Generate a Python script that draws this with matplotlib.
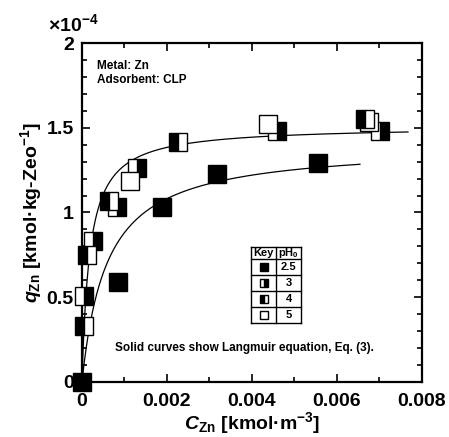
import numpy as np
import matplotlib
matplotlib.use("Agg")
import matplotlib.pyplot as plt

plt.rcParams['font.family'] = 'Liberation Sans'
plt.rcParams['font.weight'] = 'bold'
plt.rcParams['axes.labelweight'] = 'bold'
plt.rcParams['mathtext.fontset'] = 'custom'
plt.rcParams['mathtext.rm'] = 'Liberation Sans:bold'
plt.rcParams['mathtext.bf'] = 'Liberation Sans:bold'
plt.rcParams['mathtext.it'] = 'Liberation Sans:italic:bold'

# C in kmol/m3, q in 1e-4 kmol/kg-Zeo
c_ph25 = [0.0, 0.00085, 0.00188, 0.00317, 0.00555]
q_ph25 = [0.0, 0.59, 1.03, 1.23, 1.29]

c_ph3 = [0.00005, 0.00027, 0.00083, 0.00129, 0.00459, 0.00701]
q_ph3 = [0.51, 0.83, 1.035, 1.26, 1.48, 1.483]

c_ph4 = [0.00004, 0.00011, 0.00064, 0.00227, 0.00665]
q_ph4 = [0.33, 0.75, 1.07, 1.416, 1.553]

c_ph5 = [0.00113, 0.00438, 0.00675]
q_ph5 = [1.185, 1.52, 1.536]

# Langmuir fits (qm in 1e-4, K in m3/kmol)
qm_hi, K_hi, cmax_hi = 1.51, 5500, 0.00767
qm_lo, K_lo, cmax_lo = 1.40, 1700, 0.00654

key_labels = ['2.5', '3', '4', '5']

fig = plt.figure(figsize=(4.49, 4.37), dpi=100)
ax = fig.add_axes([0.1826, 0.1259, 0.7572, 0.7757])

c = np.linspace(0, cmax_hi, 400)
ax.plot(c, qm_hi * K_hi * c / (1 + K_hi * c), color='black', lw=0.9, zorder=2)
c = np.linspace(0, cmax_lo, 400)
ax.plot(c, qm_lo * K_lo * c / (1 + K_lo * c), color='black', lw=0.9, zorder=2)

ms = 12.5
ax.plot(c_ph3, q_ph3, 's', ms=ms, fillstyle='right', mfc='black', mfcalt='white',
        mec='black', mew=1, zorder=3, clip_on=False)
ax.plot(c_ph5, q_ph5, 's', ms=ms, mfc='white', mec='black', mew=1, zorder=4, clip_on=False)
ax.plot(c_ph4, q_ph4, 's', ms=ms, fillstyle='left', mfc='black', mfcalt='white',
        mec='black', mew=1, zorder=5, clip_on=False)
ax.plot(c_ph25, q_ph25, 's', ms=ms, mfc='black', mec='black', mew=1, zorder=6, clip_on=False)

ax.set_xlim(0, 0.008)
ax.set_ylim(0, 2)
ax.set_xticks([0, 0.002, 0.004, 0.006, 0.008])
ax.set_xticks(np.arange(0.001, 0.008, 0.002), minor=True)
ax.set_yticks([0, 0.5, 1, 1.5, 2])
ax.set_yticks(np.arange(0.1, 2.0, 0.1), minor=True)
ax.xaxis.set_major_formatter(plt.FuncFormatter(lambda v, p: '%g' % v))
ax.yaxis.set_major_formatter(plt.FuncFormatter(lambda v, p: '%g' % v))
ax.tick_params(which='both', direction='in', top=True, right=True, width=1.2)
ax.tick_params(which='major', length=6, labelsize=14)
ax.tick_params(which='minor', length=3.5)
ax.tick_params(axis='x', pad=8)
ax.tick_params(axis='y', pad=6)
for s in ax.spines.values():
    s.set_linewidth(1.6)

ax.set_xlabel(r'$C_{\mathrm{Zn}}$ [kmol·m$^{-3}$]', fontsize=14, labelpad=0)
ax.set_ylabel(r'$q_{\mathrm{Zn}}$ [kmol·kg-Zeo$^{-1}$]', fontsize=14, labelpad=2)

fig.text(48 / 449, 1 - 31 / 437, '×10$^{-4}$', fontsize=14, ha='left', va='baseline')

ax.text(0.044, 0.931, 'Metal: Zn', transform=ax.transAxes, fontsize=8.5, va='center')
ax.text(0.044, 0.891, 'Adsorbent: CLP', transform=ax.transAxes, fontsize=8.5, va='center')
ax.text(0.097, 0.100, 'Solid curves show Langmuir equation, Eq. (3).', transform=ax.transAxes,
        fontsize=8.5, va='center')

# key table
tx0, tx1, tx2 = 0.497, 0.571, 0.644
rows = [0.398, 0.363, 0.316, 0.268, 0.221, 0.174]
kw = dict(transform=ax.transAxes, color='black', lw=1.0, clip_on=False)
for r in rows:
    ax.plot([tx0, tx2], [r, r], **kw)
for xx in (tx0, tx1, tx2):
    ax.plot([xx, xx], [rows[0], rows[-1]], **kw)
ax.text((tx0 + tx1) / 2, (rows[0] + rows[1]) / 2, 'Key', transform=ax.transAxes,
        fontsize=8, ha='center', va='center')
ax.text((tx1 + tx2) / 2, (rows[0] + rows[1]) / 2, 'pH$_0$', transform=ax.transAxes,
        fontsize=8, ha='center', va='center')
styles = [dict(mfc='black'),
          dict(fillstyle='right', mfc='black', mfcalt='white'),
          dict(fillstyle='left', mfc='black', mfcalt='white'),
          dict(mfc='white')]
for i, lab in enumerate(key_labels):
    ym = (rows[i + 1] + rows[i + 2]) / 2
    ax.plot([(tx0 + tx1) / 2], [ym], 's', ms=6, mec='black', mew=1,
            transform=ax.transAxes, clip_on=False, **styles[i])
    ax.text((tx1 + tx2) / 2, ym, lab, transform=ax.transAxes, fontsize=8,
            ha='center', va='center')

fig.savefig('out.png', dpi=100)
